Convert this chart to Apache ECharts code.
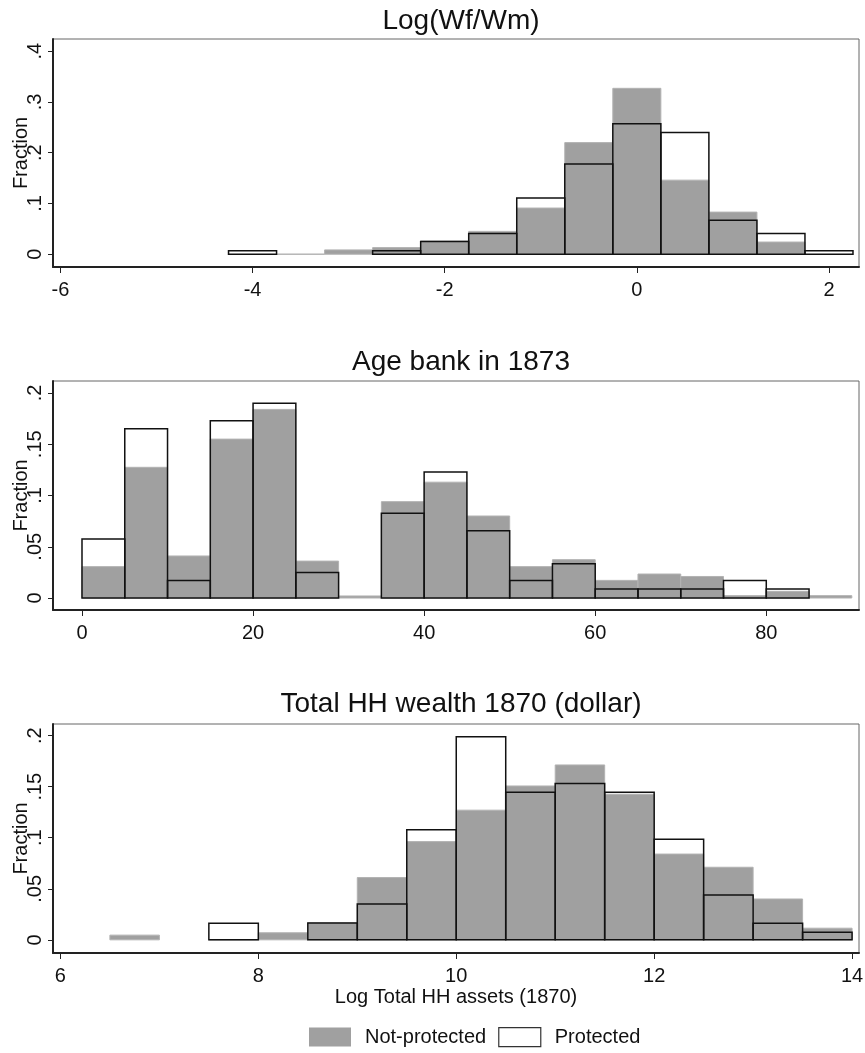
<!DOCTYPE html>
<html>
<head>
<meta charset="utf-8">
<script src="https://cdn.jsdelivr.net/npm/echarts@6/dist/echarts.min.js"></script>
<style>
  html, body { margin: 0; padding: 0; background: #fff; }
  #chart { width: 865px; height: 1053px; }
</style>
</head>
<body>
<div id="chart"></div>
<script>
// ---- Panel 1: Log(Wf/Wm), bins of width 0.5 ----
const wageBinWidth = 0.5;
const wageBinStarts = [-4.25, -3.75, -3.25, -2.75, -2.25, -1.75, -1.25, -0.75, -0.25, 0.25, 0.75, 1.25, 1.75];
const wageNotProtected = [null, 0, 0.0085, 0.013, 0.026, 0.045, 0.091, 0.220, 0.327, 0.146, 0.083, 0.024, null];
const wageProtected    = [0.0066, null, null, 0.0066, 0.025, 0.041, 0.111, 0.178, 0.257, 0.240, 0.067, 0.041, 0.0066];
const wageXTicks = [-6, -4, -2, 0, 2];
const wageYTicks = [0, 0.1, 0.2, 0.3, 0.4];

// ---- Panel 2: Age bank in 1873, bins of width 5 ----
const ageBinWidth = 5;
const ageBinStarts = [0, 5, 10, 15, 20, 25, 30, 35, 40, 45, 50, 55, 60, 65, 70, 75, 80, 85];
const ageNotProtected = [0.0306, 0.1275, 0.041, 0.155, 0.184, 0.036, 0.002, 0.094, 0.113, 0.080, 0.0306, 0.0374, 0.0172, 0.0234, 0.021, 0.0023, 0.0065, 0.0023];
const ageProtected    = [0.0576, 0.165, 0.017, 0.173, 0.190, 0.025, null, 0.0826, 0.123, 0.0657, 0.017, 0.0335, 0.0088, 0.0088, 0.0088, 0.017, 0.0088, null];
const ageXTicks = [0, 20, 40, 60, 80];
const ageYTicks = [0, 0.05, 0.1, 0.15, 0.2];

// ---- Panel 3: Total HH wealth 1870 (log), bins of width 0.5 ----
const wealthBinWidth = 0.5;
const wealthBinStarts = [6.5, 7, 7.5, 8, 8.5, 9, 9.5, 10, 10.5, 11, 11.5, 12, 12.5, 13, 13.5];
const wealthNotProtected = [0.0046, null, 0, 0.0069, 0.0166, 0.061, 0.0962, 0.127, 0.1507, 0.1713, 0.1426, 0.084, 0.0711, 0.040, 0.0114];
const wealthProtected    = [null, null, 0.0163, null, 0.0166, 0.0352, 0.1077, 0.199, 0.1445, 0.153, 0.1445, 0.0985, 0.044, 0.0163, 0.0075];
const wealthXTicks = [6, 8, 10, 12, 14];
const wealthYTicks = [0, 0.05, 0.1, 0.15, 0.2];

const panelTitles = ['Log(Wf/Wm)', 'Age bank in 1873', 'Total HH wealth 1870 (dollar)'];
const yAxisTitle = 'Fraction';
const wealthAxisTitle = 'Log Total HH assets (1870)';
const groupNames = ['Not-protected', 'Protected'];

const FONT = '"Liberation Sans", Arial, Helvetica, sans-serif';
const TEXT = '#111';
const GRAY = '#a0a0a0';

const panels = [
  { starts: wageBinStarts, w: wageBinWidth, np: wageNotProtected, p: wageProtected,
    xt: wageXTicks, yt: wageYTicks, xmin: -6.077, xmax: 2.3125, ymin: -0.0252, ymax: 0.4242,
    top: 39, height: 228, titleTop: 2 },
  { starts: ageBinStarts, w: ageBinWidth, np: ageNotProtected, p: ageProtected,
    xt: ageXTicks, yt: ageYTicks, xmin: -3.39, xmax: 90.84, ymin: -0.0117, ymax: 0.2117,
    top: 381, height: 229, titleTop: 343 },
  { starts: wealthBinStarts, w: wealthBinWidth, np: wealthNotProtected, p: wealthProtected,
    xt: wealthXTicks, yt: wealthYTicks, xmin: 5.925, xmax: 14.07, ymin: -0.0129, ymax: 0.2114,
    top: 724, height: 229, titleTop: 685 }
];

function fmtFrac(v) {
  if (v === 0) return '0';
  return String(+v.toFixed(3)).replace(/^0\./, '.');
}

function binData(starts, values) {
  const out = [];
  starts.forEach((s, i) => { if (values[i] !== null) out.push([s, values[i]]); });
  return out;
}

function histRenderer(binW, style) {
  return function (params, api) {
    const x0 = api.value(0);
    const v = api.value(1);
    const a = api.coord([x0, v]);
    const b = api.coord([x0 + binW, 0]);
    return {
      type: 'rect',
      shape: { x: a[0], y: a[1], width: b[0] - a[0], height: b[1] - a[1] },
      style: style
    };
  };
}

const grids = [], xAxes = [], yAxes = [], series = [], titles = [];
panels.forEach((pn, i) => {
  grids.push({ left: 53, width: 806, top: pn.top, height: pn.height,
               containLabel: false, outerBoundsMode: 'none',
               show: true, borderColor: '#666', borderWidth: 1 });
  titles.push({ text: panelTitles[i], left: 456, top: pn.titleTop, textAlign: 'center',
                textStyle: { fontFamily: FONT, fontSize: 28, fontWeight: 'normal', color: TEXT } });
  xAxes.push({
    type: 'value', gridIndex: i, min: pn.xmin, max: pn.xmax,
    axisLine: { show: true, onZero: false, lineStyle: { color: '#222', width: 2 } },
    axisTick: { show: true, length: 6, lineStyle: { color: '#222', width: 1 }, customValues: pn.xt },
    axisLabel: { customValues: pn.xt, margin: 13, fontFamily: FONT, fontSize: 20, color: TEXT },
    splitLine: { show: false },
    name: i === 2 ? wealthAxisTitle : '',
    nameLocation: 'middle', nameGap: 34, nameMoveOverlap: false,
    nameTextStyle: { fontFamily: FONT, fontSize: 20, color: TEXT }
  });
  yAxes.push({
    type: 'value', gridIndex: i, min: pn.ymin, max: pn.ymax,
    axisLine: { show: true, onZero: false, lineStyle: { color: '#222', width: 2 } },
    axisTick: { show: true, length: 5, lineStyle: { color: '#222', width: 1 }, customValues: pn.yt },
    axisLabel: { customValues: pn.yt, rotate: 90, margin: 8, fontFamily: FONT, fontSize: 20, color: TEXT,
                 formatter: fmtFrac },
    splitLine: { show: false },
    name: yAxisTitle, nameLocation: 'middle', nameGap: 22, nameMoveOverlap: false,
    nameTextStyle: { fontFamily: FONT, fontSize: 20, color: TEXT }
  });
  series.push({
    type: 'custom', name: groupNames[0], xAxisIndex: i, yAxisIndex: i,
    itemStyle: { color: GRAY },
    renderItem: histRenderer(pn.w, { fill: GRAY, stroke: '#b2b2b2', lineWidth: 1 }),
    encode: { x: 0, y: 1 },
    data: binData(pn.starts, pn.np), z: 2
  });
  series.push({
    type: 'custom', name: groupNames[1], xAxisIndex: i, yAxisIndex: i,
    itemStyle: { color: '#fff' },
    renderItem: histRenderer(pn.w, { fill: 'none', stroke: '#111', lineWidth: 1.5 }),
    encode: { x: 0, y: 1 },
    data: binData(pn.starts, pn.p), z: 3
  });
});

const chart = echarts.init(document.getElementById('chart'), null, { renderer: 'canvas' });
chart.setOption({
  animation: false,
  backgroundColor: '#fff',
  title: titles,
  grid: grids,
  xAxis: xAxes,
  yAxis: yAxes,
  legend: {
    left: 304, top: 1022, itemWidth: 42, itemHeight: 19, itemGap: 12, selectedMode: false,
    textStyle: { fontFamily: FONT, fontSize: 20, color: TEXT, padding: [0, 0, 0, 9] },
    data: [
      { name: groupNames[0], icon: 'rect', itemStyle: { color: GRAY, borderWidth: 0 } },
      { name: groupNames[1], icon: 'rect', itemStyle: { color: '#fff', borderColor: '#333', borderWidth: 1.2 } }
    ]
  },
  series: series
});
</script>
</body>
</html>
